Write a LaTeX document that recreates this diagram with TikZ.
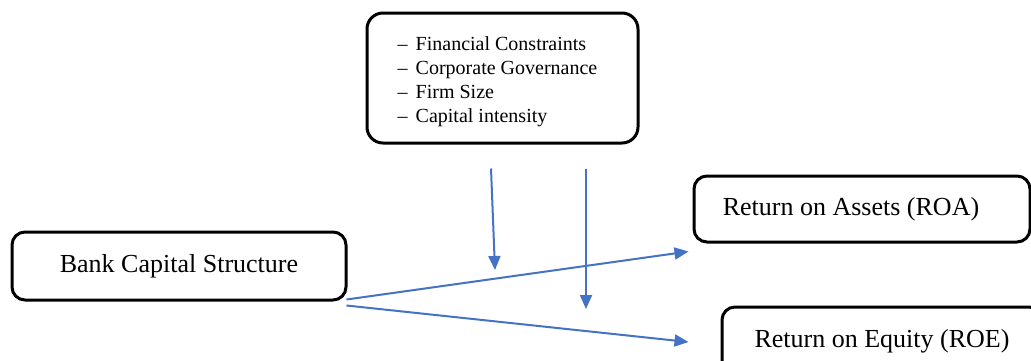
\documentclass[tikz,border=0pt]{standalone}
\usepackage{fontspec}
\setmainfont{Liberation Serif}
\usetikzlibrary{arrows.meta,calc}
\definecolor{linkblue}{RGB}{68,114,196}

\begin{document}
\begin{tikzpicture}[x=1pt, y=-1pt,
				box/.style={rectangle, draw=black, line width=3pt, rounded corners=13pt, inner sep=0pt, font=\fontsize{26}{30}\selectfont},
				listbox/.style={box, rounded corners=16pt, font=\fontsize{20}{24}\selectfont},
				link/.style={linkblue, line width=2pt, -{Triangle[length=14pt,width=12pt]}}
			]
			\useasboundingbox (0,0) rectangle (1031,360);
			\node[listbox, minimum width=271pt, minimum height=130pt] (factors) at (502.5,78) {%
				\raisebox{-4pt}[\height][\depth]{\begin{tabular}{@{}l@{}}
				\makebox[18pt][l]{--}Financial Constraints\\
				\makebox[18pt][l]{--}Corporate Governance\\
				\makebox[18pt][l]{--}Firm Size\\
				\makebox[18pt][l]{--}Capital intensity
				\end{tabular}}\hspace*{10pt}\rule{0pt}{0pt}};
			\node[box, minimum width=334pt, minimum height=68pt] (bank) at (179,266) {Bank Capital Structure};
			\node[box, minimum width=336pt, minimum height=66pt] (roa) at (862,209) {Return on Assets (ROA)\hspace*{22pt}\rule{0pt}{0pt}};
			\node[box, minimum width=320pt, minimum height=68pt] (roe) at (882,341) {Return on Equity (ROE)};
			\coordinate (roaIn) at ($(roa.south west)+(-4,8)$);
			\coordinate (roeIn) at ($(roe.west)+(-32,1)$);
			\coordinate (modA) at ($(factors.south)+(-11.5,24)$);
			\coordinate (modB) at ($(factors.south)+(83.5,24)$);
			\coordinate (modAend) at (495,270);
			\coordinate (modBend) at (586,309);
			\begin{scope}[link]
			\draw ($(bank.south east)+(-1,-2)$) -- (roaIn);
			\draw ($(bank.south east)+(-1,4)$) -- (roeIn);
			\draw (modA) -- (modAend);
			\draw (modB) -- (modBend);
			\end{scope}
			\end{tikzpicture}
\end{document}
